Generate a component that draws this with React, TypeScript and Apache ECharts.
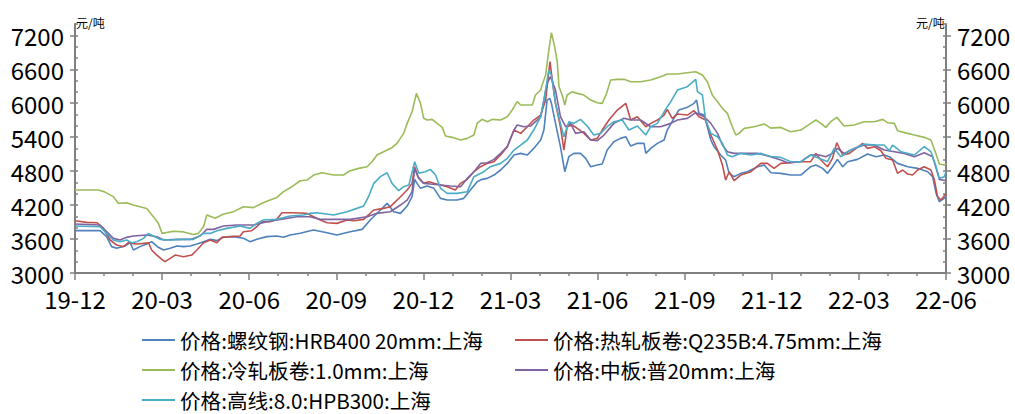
import React, { useEffect, useRef } from 'react';
import * as echarts from 'echarts';

// x = months since 2019-12 (0 = 19-12, 30 = 22-06), y = 元/吨
const xTickLabels = ['19-12', '20-03', '20-06', '20-09', '20-12', '21-03', '21-06', '21-09', '21-12', '22-03', '22-06'];

const names = [
  '价格:螺纹钢:HRB400 20mm:上海',
  '价格:热轧板卷:Q235B:4.75mm:上海',
  '价格:冷轧板卷:1.0mm:上海',
  '价格:中板:普20mm:上海',
  '价格:高线:8.0:HPB300:上海',
];

const rebar: [number, number][] = [
  [0, 3748], [0.86, 3748], [1.09, 3643], [1.26, 3466], [1.44, 3436], [1.72, 3478], [1.9, 3536], [2.01, 3407], [2.24, 3466], [2.47, 3513], [2.64, 3554], [2.87, 3454], [3.05, 3407], [3.28, 3436], [3.51, 3478], [3.74, 3466], [3.97, 3478], [4.2, 3513], [4.43, 3554], [4.66, 3595], [4.89, 3572], [5.11, 3631], [5.46, 3643], [5.8, 3613], [6.03, 3554], [6.26, 3595], [6.61, 3643], [6.95, 3654], [7.18, 3631], [7.41, 3672], [7.76, 3701], [8.1, 3748],
  [8.22, 3759], [8.68, 3712], [9.02, 3671], [9.48, 3730], [9.89, 3771], [10.17, 3936], [10.52, 4113], [10.75, 4231], [10.98, 4083], [11.21, 4054], [11.44, 4183], [11.61, 4348], [11.7, 4655], [11.78, 4584], [11.9, 4496], [12.13, 4537], [12.36, 4496], [12.59, 4319], [12.82, 4289], [13.16, 4289], [13.39, 4319], [13.62, 4466], [13.85, 4613], [14.02, 4655], [14.2, 4672], [14.43, 4731], [14.66, 4820], [14.89, 4937], [15.12, 5085], [15.35, 5114], [15.58, 5085], [15.8, 5202], [16.04, 5350],
  [16.15, 5526], [16.26, 6056], [16.35, 6086], [16.41, 5998], [16.55, 5644], [16.72, 5232], [16.87, 4790], [17.01, 5055], [17.18, 5114], [17.41, 5114], [17.59, 5026], [17.76, 4878], [17.99, 4908], [18.16, 4926], [18.33, 5173], [18.56, 5320], [18.79, 5379], [18.97, 5409], [19.14, 5244], [19.37, 5291], [19.6, 5291], [19.66, 5114], [19.83, 5202], [20.06, 5291], [20.29, 5350], [20.4, 5526], [20.63, 5733], [20.8, 5880], [21.09, 5927], [21.32, 5998], [21.41, 6056], [21.49, 5821], [21.67, 5791], [21.78, 5585], [21.9, 5350], [22.01, 5232], [22.24, 5085], [22.41, 4996], [22.53, 4761], [22.7, 4702], [22.93, 4761], [23.16, 4790], [23.51, 4878], [23.74, 4908], [23.97, 4772],
  [24.31, 4761], [24.65, 4731], [25, 4731], [25.34, 4878], [25.52, 4908], [25.75, 4849], [25.92, 4761], [26.09, 4878], [26.26, 5008], [26.44, 4878], [26.61, 4967], [26.95, 5008], [27.3, 5102], [27.59, 5055], [27.87, 5085], [28.05, 5055], [28.33, 4937], [28.68, 4878], [29.02, 4849], [29.37, 4790], [29.54, 4702], [29.66, 4407], [29.77, 4260], [29.94, 4319], [30, 4360],
];

const hotRolled: [number, number][] = [
  [0, 3924], [0.4, 3895], [0.75, 3889], [0.98, 3789], [1.21, 3583], [1.44, 3494], [1.67, 3465], [1.84, 3535], [1.95, 3524], [2.13, 3512], [2.36, 3524], [2.53, 3535], [2.64, 3406], [2.82, 3317], [2.99, 3241], [3.1, 3200], [3.28, 3259], [3.45, 3317], [3.74, 3288], [4.02, 3317], [4.2, 3406], [4.43, 3535], [4.66, 3583], [4.89, 3535], [5.06, 3630], [5.34, 3642], [5.69, 3653], [5.8, 3730], [6.09, 3748], [6.26, 3818], [6.44, 3906], [6.72, 3906], [6.95, 3948], [7.13, 4065], [7.41, 4065], [7.76, 4060], [7.99, 4054],
  [8.22, 3995], [8.45, 3936], [8.68, 3889], [9.02, 3877], [9.37, 3936], [9.6, 3924], [9.94, 3948], [10.29, 4113], [10.63, 4142], [10.86, 4172], [11.21, 4348], [11.44, 4466], [11.61, 4584], [11.7, 4878], [11.81, 4702], [12.01, 4584], [12.19, 4613], [12.36, 4584], [12.59, 4555], [12.82, 4525], [13.1, 4466], [13.28, 4584], [13.51, 4655], [13.74, 4790], [13.97, 4878], [14.2, 4937], [14.43, 4967], [14.66, 5085], [14.89, 5232], [15.12, 5526], [15.35, 5467], [15.58, 5585], [15.8, 5703], [16.04, 5791],
  [16.21, 6056], [16.36, 6734], [16.41, 6528], [16.55, 5998], [16.72, 5585], [16.84, 5173], [16.95, 5585], [17.13, 5615], [17.3, 5556], [17.53, 5467], [17.76, 5350], [17.99, 5379], [18.16, 5526], [18.39, 5703], [18.68, 5880], [18.97, 5998], [19.14, 5703], [19.37, 5762], [19.66, 5585], [19.83, 5644], [20.06, 5703], [20.29, 5791], [20.4, 5891], [20.57, 5733], [20.75, 5809], [21.09, 5791], [21.32, 5868], [21.49, 5762], [21.72, 5703], [21.9, 5438], [22.13, 5173], [22.3, 4908], [22.41, 4643], [22.53, 4790], [22.7, 4631], [22.93, 4731], [23.28, 4790], [23.62, 4937], [23.85, 4937],
  [24.08, 4849], [24.31, 4937], [24.65, 4949], [25, 4967], [25.34, 4967], [25.52, 5114], [25.69, 4996], [25.92, 4878], [26.09, 5026], [26.24, 5302], [26.44, 5085], [26.67, 5114], [26.95, 5220], [27.13, 5291], [27.3, 5202], [27.53, 5232], [27.76, 5161], [27.93, 5026], [28.16, 4996], [28.33, 4761], [28.51, 4820], [28.68, 4749], [28.85, 4731], [29.02, 4820], [29.25, 4878], [29.48, 4820], [29.6, 4643], [29.71, 4348], [29.83, 4289], [30, 4407],
];

const coldRolled: [number, number][] = [
  [0, 4467], [0.8, 4467], [1, 4438], [1.32, 4350], [1.49, 4232], [1.78, 4240], [2.01, 4200], [2.47, 4140], [2.7, 3996], [2.87, 3878], [3, 3700], [3.39, 3738], [3.74, 3726], [4.08, 3679], [4.25, 3700], [4.43, 3820], [4.54, 4026], [4.83, 3967], [5.1, 4037], [5.46, 4084], [5.8, 4172], [6.15, 4155], [6.44, 4232], [6.72, 4290], [6.95, 4332], [7.18, 4437], [7.47, 4525], [7.76, 4630], [7.99, 4643],
  [8.22, 4731], [8.51, 4772], [8.91, 4731], [9.25, 4731], [9.48, 4808], [9.77, 4849], [10.06, 4878], [10.23, 4967], [10.4, 5085], [10.63, 5144], [10.92, 5214], [11.09, 5291], [11.32, 5467], [11.44, 5644], [11.61, 5850], [11.76, 6174], [11.9, 5998], [12.01, 5733], [12.13, 5703], [12.3, 5715], [12.47, 5644], [12.65, 5573], [12.76, 5420], [12.99, 5397], [13.28, 5350], [13.51, 5379], [13.74, 5438], [13.85, 5644], [14.02, 5715], [14.2, 5674], [14.37, 5715], [14.66, 5703], [14.89, 5762], [15.06, 5880], [15.23, 6027], [15.35, 5968], [15.58, 5968], [15.75, 5968], [15.86, 6145], [16.04, 6233],
  [16.09, 6321], [16.21, 6498], [16.32, 6940], [16.41, 7246], [16.52, 6999], [16.61, 6734], [16.67, 6292], [16.78, 6145], [16.87, 5968], [16.95, 6145], [17.13, 6204], [17.3, 6174], [17.53, 6145], [17.76, 6056], [17.99, 6009], [18.16, 5997], [18.31, 6174], [18.45, 6410], [18.68, 6422], [18.91, 6422], [19.14, 6380], [19.48, 6380], [19.83, 6410], [20.17, 6469], [20.4, 6516], [20.75, 6516], [21.09, 6539], [21.38, 6557], [21.61, 6498], [21.78, 6380], [21.95, 6145], [22.13, 6027], [22.3, 5909], [22.47, 5821], [22.64, 5585], [22.76, 5438], [22.87, 5467], [23.05, 5556], [23.39, 5585], [23.74, 5632], [23.97, 5560],
  [24.31, 5573], [24.65, 5497], [25, 5526], [25.34, 5644], [25.52, 5703], [25.69, 5644], [25.86, 5573], [26.03, 5674], [26.24, 5750], [26.49, 5597], [26.84, 5615], [27.18, 5674], [27.53, 5674], [27.82, 5715], [27.99, 5656], [28.22, 5644], [28.33, 5515], [28.68, 5467], [28.91, 5438], [29.25, 5397], [29.48, 5350], [29.65, 5114], [29.77, 4926], [29.94, 4908], [30, 4926],
];

const plate: [number, number][] = [
  [0, 3865], [0.86, 3848], [1.09, 3730], [1.32, 3612], [1.55, 3583], [1.78, 3630], [2.01, 3653], [2.47, 3671], [2.82, 3642], [3.05, 3583], [3.51, 3594], [3.97, 3594], [4.31, 3653], [4.54, 3771], [4.77, 3771], [5.11, 3830], [5.57, 3848], [6.15, 3848], [6.61, 3906], [7.07, 3948], [7.64, 3995], [8.1, 3995],
  [8.45, 3948], [8.91, 3948], [9.48, 3948], [10.06, 3995], [10.4, 4054], [10.86, 4083], [11.21, 4201], [11.44, 4289], [11.61, 4437], [11.7, 4849], [11.84, 4672], [12.01, 4584], [12.24, 4572], [12.59, 4555], [12.93, 4537], [13.28, 4525], [13.51, 4672], [13.74, 4790], [13.97, 4937], [14.2, 4949], [14.43, 5008], [14.66, 5114], [14.89, 5232], [15.12, 5526], [15.23, 5615], [15.46, 5585], [15.69, 5597], [16.04, 5760],
  [16.26, 6351], [16.38, 6469], [16.55, 6233], [16.72, 5762], [16.9, 5585], [17.07, 5644], [17.24, 5467], [17.53, 5497], [17.76, 5350], [17.99, 5338], [18.22, 5438], [18.56, 5644], [18.91, 5733], [19.14, 5703], [19.48, 5703], [19.83, 5585], [20.17, 5585], [20.52, 5644], [20.75, 5703], [21.09, 5733], [21.38, 5833], [21.67, 5762], [21.9, 5644], [22.13, 5467], [22.3, 5261], [22.47, 5144], [22.7, 5114], [23.05, 5114], [23.51, 5114],
  [23.96, 5055], [24.31, 4996], [24.54, 4949], [25, 4967], [25.34, 5085], [25.63, 5085], [25.86, 5055], [26.09, 5114], [26.26, 5202], [26.49, 5114], [26.84, 5202], [27.18, 5261], [27.53, 5261], [27.87, 5173], [28.22, 5144], [28.56, 5114], [28.91, 5055], [29.25, 5126], [29.54, 5055], [29.66, 4849], [29.77, 4655], [30, 4631],
];

const wireRod: [number, number][] = [
  [0, 3830], [0.86, 3818], [1.09, 3700], [1.32, 3583], [1.55, 3553], [1.78, 3583], [1.95, 3535], [2.13, 3553], [2.36, 3612], [2.53, 3700], [2.7, 3653], [2.93, 3594], [3.28, 3583], [3.74, 3594], [4.08, 3594], [4.43, 3700], [4.66, 3700], [4.89, 3748], [5.23, 3789], [5.69, 3830], [6.03, 3789], [6.26, 3877], [6.49, 3936], [6.95, 3948], [7.41, 4007], [7.87, 4024], [8.1, 4054],
  [8.33, 4065], [8.91, 4024], [9.37, 4083], [9.71, 4142], [9.94, 4183], [10.11, 4348], [10.29, 4584], [10.52, 4702], [10.75, 4772], [10.92, 4584], [11.15, 4454], [11.32, 4525], [11.5, 4555], [11.7, 4967], [11.84, 4761], [12.07, 4790], [12.24, 4831], [12.42, 4731], [12.59, 4496], [12.82, 4407], [13.16, 4407], [13.51, 4437], [13.74, 4702], [14.08, 4790], [14.31, 4878], [14.66, 4937], [14.89, 5026], [15.12, 5173], [15.35, 5261], [15.58, 5350], [15.8, 5526], [16.04, 5762],
  [16.15, 6056], [16.32, 6587], [16.41, 6498], [16.55, 5998], [16.72, 5644], [16.84, 5409], [17.01, 5674], [17.18, 5644], [17.41, 5715], [17.64, 5597], [17.87, 5438], [18.1, 5467], [18.33, 5585], [18.56, 5674], [18.85, 5703], [19.08, 5526], [19.37, 5597], [19.66, 5438], [19.83, 5585], [20.06, 5644], [20.34, 5891], [20.52, 6027], [20.75, 6233], [21.09, 6292], [21.38, 6422], [21.44, 6204], [21.61, 6145], [21.72, 5703], [21.9, 5467], [22.13, 5409], [22.3, 5291], [22.47, 5085], [22.64, 5055], [22.93, 5114], [23.28, 5085], [23.62, 5114], [23.97, 5060],
  [24.31, 5043], [24.65, 4967], [25, 4967], [25.34, 5085], [25.63, 5026], [25.92, 4967], [26.15, 5202], [26.38, 5055], [26.72, 5173], [27.18, 5279], [27.53, 5261], [27.87, 5261], [28.05, 5161], [28.16, 5261], [28.45, 5144], [28.91, 5085], [29.25, 5232], [29.48, 5144], [29.66, 4878], [29.77, 4672], [29.94, 4702], [30, 4790],
];

const seriesData = [rebar, hotRolled, coldRolled, plate, wireRod];
const colors = ['#4F81BD', '#C0504D', '#9BBB59', '#8064A2', '#4BACC6'];
const unitLabel = '元/吨';

const FONT = '"Noto Sans CJK SC", "Noto Sans", sans-serif';
const AXIS_COLOR = '#808080';

export default function App() {
  const ref = useRef<HTMLDivElement>(null);
  useEffect(() => {
    if (!ref.current) return;
    const chart = echarts.init(ref.current, null, { renderer: 'svg' });
    const yMin = 3000;
    const yMax = 7400;
    const labelAxis = (position: 'left' | 'right') => ({
      type: 'value',
      position,
      min: yMin,
      max: yMax,
      interval: 600,
      axisLine: { show: true, lineStyle: { color: AXIS_COLOR, width: 2 } },
      axisTick: { show: true, inside: false, length: 5, lineStyle: { color: AXIS_COLOR, width: 1.5 } },
      axisLabel: {
        show: true,
        showMaxLabel: false,
        fontSize: 24,
        lineHeight: 20,
        color: '#000',
        margin: 11,
        fontFamily: FONT,
        formatter: (v: number) => String(v),
      },
      splitLine: { show: false },
    });
    const minorAxis = (position: 'left' | 'right') => ({
      type: 'value',
      position,
      min: yMin,
      max: yMax,
      interval: 200,
      axisLine: { show: false },
      axisTick: { show: true, inside: true, length: 3, lineStyle: { color: AXIS_COLOR, width: 1.5 } },
      axisLabel: { show: false },
      splitLine: { show: false },
    });
    const legendBase = {
      top: 329,
      orient: 'vertical',
      padding: 0,
      height: 140,
      itemGap: 8,
      itemWidth: 33,
      itemHeight: 2,
      icon: 'rect',
      textStyle: { fontSize: 20.6, color: '#000', fontFamily: FONT, lineHeight: 22 },
    };
    chart.setOption({
      animation: false,
      backgroundColor: '#fff',
      grid: { left: 75, right: 69, top: 24, bottom: 141, containLabel: false },
      xAxis: {
        type: 'value',
        min: 0,
        max: 30,
        interval: 3,
        axisLine: { show: true, lineStyle: { color: AXIS_COLOR, width: 2 } },
        axisTick: { show: true, inside: false, length: 7, lineStyle: { color: AXIS_COLOR, width: 1.5 } },
        minorTick: { show: true, splitNumber: 3, length: 3, lineStyle: { color: AXIS_COLOR, width: 1.5 } },
        axisLabel: {
          fontSize: 24,
          lineHeight: 20,
          color: '#000',
          margin: 15,
          fontFamily: FONT,
          showMinLabel: true,
          showMaxLabel: true,
          formatter: (v: number) => xTickLabels[Math.round(v / 3)] ?? '',
        },
        splitLine: { show: false },
      },
      yAxis: [labelAxis('left'), minorAxis('left'), labelAxis('right'), minorAxis('right')],
      legend: [
        { ...legendBase, left: 142, data: [names[0], names[2], names[4]] },
        { ...legendBase, left: 515, data: [names[1], names[3]] },
      ],
      graphic: [
        { type: 'text', left: 76, top: 16, style: { text: unitLabel, fontSize: 12, fill: '#000', fontFamily: FONT } },
        { type: 'text', left: 916, top: 16, style: { text: unitLabel, fontSize: 12, fill: '#000', fontFamily: FONT } },
      ],
      series: seriesData.map((d, i) => ({
        name: names[i],
        type: 'line',
        yAxisIndex: 0,
        data: d,
        showSymbol: false,
        symbol: 'none',
        color: colors[i],
        lineStyle: { width: 1.6, color: colors[i] },
        z: i === 2 ? 1 : 2,
      })),
    });
    return () => chart.dispose();
  }, []);
  return <div ref={ref} style={{ position: 'fixed', left: 0, top: 0, width: 1015, height: 414 }} />;
}
